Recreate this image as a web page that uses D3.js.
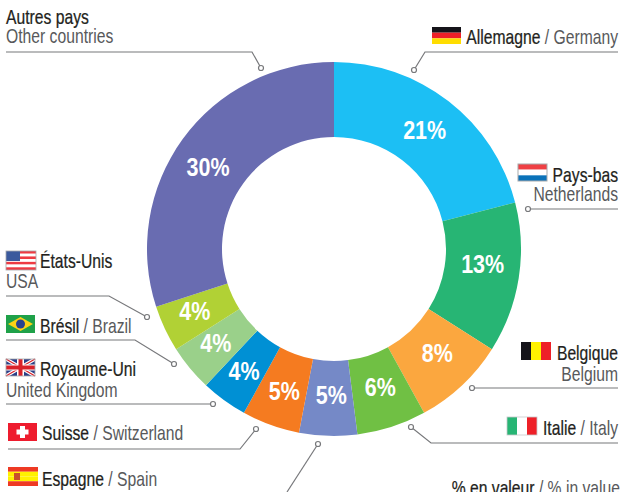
<!DOCTYPE html>
<html>
<head>
<meta charset="utf-8">
<script src="https://cdn.jsdelivr.net/npm/d3@7"></script>
<style>
body { margin: 0; background: #fff; overflow: hidden; }
text { font-family: "Liberation Sans", sans-serif; }
</style>
</head>
<body>
<div id="chart"></div>
<script>
// Data, clockwise from 12 o'clock
const namesFr = ["Allemagne", "Pays-bas", "Belgique", "Italie", "Espagne", "Suisse", "Royaume-Uni", "Brésil", "États-Unis", "Autres pays"];
const namesEn = ["Germany", "Netherlands", "Belgium", "Italy", "Spain", "Switzerland", "United Kingdom", "Brazil", "USA", "Other countries"];
const shares = [21, 13, 8, 6, 5, 5, 4, 4, 4, 30];
const sliceColours = ["#1cbff4", "#27b574", "#fba73f", "#70c044", "#7589c7", "#f57b20", "#0090d4", "#9ad08a", "#b1d135", "#696cb1"];
const footnoteFr = "% en valeur";
const footnoteEn = "% in value";

const width = 620, height = 492;
const cx = 334, cy = 249, outer = 187, inner = 112;
const squeeze = 0.785; // no condensed font installed, so squash the text

const svg = d3.select("#chart")
    .append("svg")
    .attr("width", width)
    .attr("height", height);

// Donut
const pie = d3.pie().sort(null).value((d) => d);
const arc = d3.arc().innerRadius(inner).outerRadius(outer);
const slices = pie(shares);

const ring = svg.append("g").attr("transform", "translate(" + cx + "," + cy + ")");

ring.selectAll("path")
    .data(slices)
    .enter()
    .append("path")
    .attr("d", arc)
    .attr("fill", (d, i) => sliceColours[i]);

// the percentages are not quite on the centroids in the source
const nudge = [[-1, -1], [1, -8], [1, -5], [0, -4], [2, -3], [1, 1], [-2, 1], [-3, -1], [-4, -2], [-5, 6]];

ring.selectAll("text")
    .data(slices)
    .enter()
    .append("text")
    .attr("transform", (d, i) => {
        const c = arc.centroid(d);
        return "translate(" + (c[0] + nudge[i][0]) + "," + (c[1] + nudge[i][1]) + ") scale(0.86,1)";
    })
    .attr("text-anchor", "middle")
    .attr("dy", "0.36em")
    .attr("fill", "white")
    .attr("font-weight", "bold")
    .attr("font-size", 25)
    .text((d) => d.value + "%");

// Leader lines: one entry per slice, same order as the data
const leaders = [
    [[414, 70], [425, 52], [618, 52]],
    [[528, 209], [618, 209]],
    [[472, 388], [618, 388]],
    [[411, 427], [431, 443], [618, 443]],
    [[318, 444], [287, 492]],
    [[256, 429], [240, 449], [8, 449]],
    [[213, 404], [6, 404]],
    [[174, 364], [135, 340], [6, 340]],
    [[147, 317], [109, 296], [6, 296]],
    [[261, 68], [252, 52], [6, 52]]
];

const line = d3.line();
const leaderG = svg.append("g");

leaderG.selectAll("path")
    .data(leaders)
    .enter()
    .append("path")
    .attr("d", line)
    .attr("fill", "none")
    .attr("stroke", "#77787b")
    .attr("stroke-width", 1.2);

leaderG.selectAll("circle")
    .data(leaders)
    .enter()
    .append("circle")
    .attr("cx", (d) => d[0][0])
    .attr("cy", (d) => d[0][1])
    .attr("r", 2.5)
    .attr("fill", "white")
    .attr("stroke", "#77787b")
    .attr("stroke-width", 1.2);

// Labels. mode "one" = "fr / en" on a line, "two" = en under fr
const labelPos = [
    {mode: "one", x: 618, y: 44, anchor: "end"},
    {mode: "two", x: 618, y: 182, y2: 201, anchor: "end"},
    {mode: "two", x: 618, y: 360, y2: 381, anchor: "end"},
    {mode: "one", x: 618, y: 435, anchor: "end"},
    {mode: "one", x: 42, y: 486, anchor: "start"},
    {mode: "one", x: 42, y: 440, anchor: "start"},
    {mode: "two", x: 40, y: 376, y2: 397, x2: 6, anchor: "start"},
    {mode: "one", x: 40, y: 333, anchor: "start"},
    {mode: "two", x: 40, y: 268, y2: 288, x2: 6, anchor: "start"},
    {mode: "two", x: 6, y: 24, y2: 43, anchor: "start"}
];

const labelG = svg.append("g").attr("font-size", 20);

const placed = function(x, y, anchor) {
    return labelG.append("text")
        .attr("transform", "translate(" + x + "," + y + ") scale(" + squeeze + ",1)")
        .attr("text-anchor", anchor);
};

const dark = function(sel) {
    return sel.attr("fill", "#231f20").attr("stroke", "#231f20").attr("stroke-width", 0.25);
};

labelPos.forEach(function(p, i) {
    if (p.mode == "one") {
        const t = placed(p.x, p.y, p.anchor);
        dark(t.append("tspan")).text(namesFr[i]);
        t.append("tspan").attr("fill", "#58595b").text(" / " + namesEn[i]);
    } else {
        dark(placed(p.x, p.y, p.anchor)).text(namesFr[i]);
        placed(p.x2 === undefined ? p.x : p.x2, p.y2, p.anchor)
            .attr("fill", "#58595b")
            .text(namesEn[i]);
    }
});

// Footnote, cut by the bottom edge in the source
const foot = placed(620, 495, "end");
dark(foot.append("tspan")).text(footnoteFr);
foot.append("tspan").attr("fill", "#58595b").text(" / " + footnoteEn);

// Flags
const flag = function(x, y, w, h) {
    const g = svg.append("g").attr("transform", "translate(" + x + "," + y + ")");
    g.stripes = function(cols, vertical) {
        cols.forEach(function(c, i) {
            g.append("rect")
                .attr("x", vertical ? i * w / cols.length : 0)
                .attr("y", vertical ? 0 : i * h / cols.length)
                .attr("width", vertical ? w / cols.length : w)
                .attr("height", vertical ? h : h / cols.length)
                .attr("fill", c);
        });
        return g;
    };
    return g;
};

flag(432, 27, 29, 17).stripes(["#15141a", "#ee2028", "#ffdd00"]);

flag(518, 164, 29, 17).stripes(["#ef4044", "#ffffff", "#0b72b9"])
    .append("rect").attr("width", 29).attr("height", 17)
    .attr("fill", "none").attr("stroke", "#a7a9ac");

flag(521, 342, 30, 18).stripes(["#15141a", "#fff200", "#ee2028"], true);

const it = flag(507, 417, 30, 18).stripes(["#27b574", "#ffffff", "#ee2028"], true);
it.append("rect").attr("width", 30).attr("height", 18).attr("fill", "none").attr("stroke", "#c7c8ca").attr("stroke-width", 0.8);

const es = flag(8, 467, 30, 19).stripes(["#ee3a24", "#fff200", "#fff200", "#ee3a24"]);
es.append("rect").attr("x", 6).attr("y", 6).attr("width", 6).attr("height", 7).attr("fill", "#c8502a");

const ch = flag(8, 423, 29, 18).stripes(["#ee1c2e"]);
ch.append("rect").attr("x", 12).attr("y", 3).attr("width", 5).attr("height", 12).attr("fill", "white");
ch.append("rect").attr("x", 8.5).attr("y", 6.5).attr("width", 12).attr("height", 5).attr("fill", "white");

// UK
const uk = flag(6, 359, 29, 17).stripes(["#2b3f87"]);
const ukLines = [[[0, 0], [29, 17]], [[29, 0], [0, 17]]];
ukLines.forEach(function(l) {
    uk.append("path").attr("d", line(l)).attr("stroke", "white").attr("stroke-width", 3.5);
    uk.append("path").attr("d", line(l)).attr("stroke", "#d9222a").attr("stroke-width", 1.2);
});
uk.append("rect").attr("x", 11).attr("width", 7).attr("height", 17).attr("fill", "white");
uk.append("rect").attr("y", 5.5).attr("width", 29).attr("height", 6).attr("fill", "white");
uk.append("rect").attr("x", 12.5).attr("width", 4).attr("height", 17).attr("fill", "#d9222a");
uk.append("rect").attr("y", 6.5).attr("width", 29).attr("height", 4).attr("fill", "#d9222a");
uk.append("rect").attr("width", 29).attr("height", 17).attr("fill", "none").attr("stroke", "#a7a9ac").attr("stroke-width", 0.8);

// Brazil
const br = flag(6, 315, 29, 18).stripes(["#1fa149"]);
br.append("path").attr("d", line([[14.5, 2], [27, 9], [14.5, 16], [2, 9]])).attr("fill", "#fcd116");
br.append("circle").attr("cx", 14.5).attr("cy", 9).attr("r", 4.5).attr("fill", "#27418f");

// USA
const us = flag(6, 251, 30, 19).stripes(["#ee3a43", "#ffffff", "#ee3a43", "#ffffff", "#ee3a43", "#ffffff", "#ee3a43"]);
us.append("rect").attr("width", 14).attr("height", 10).attr("fill", "#3b5a9d");
us.append("rect").attr("width", 30).attr("height", 19).attr("fill", "none").attr("stroke", "#a7a9ac").attr("stroke-width", 0.8);
</script>
</body>
</html>
